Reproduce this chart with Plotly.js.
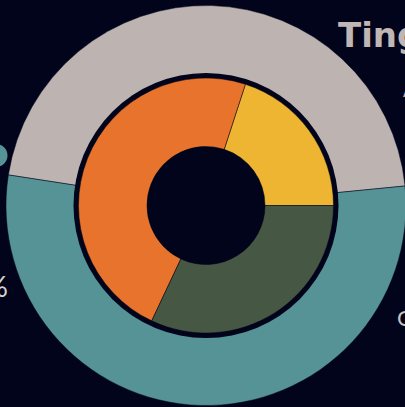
<!DOCTYPE html>
<html>
<head>
<meta charset="utf-8">
<script src="https://cdn.plot.ly/plotly-3.0.1.min.js"></script>
<style>
html,body{margin:0;padding:0;background:#01041a;overflow:hidden;width:405px;height:407px;}
#chart{width:420px;height:420px;}
</style>
</head>
<body>
<div id="chart"></div>
<script>
// Outer ring
const outerLabels = ["Grey group", "Teal group"];
const outerValues = [46, 54];
const outerColors = ["#bdb4b2", "#559397"];

// Inner ring
const innerLabels = ["Yellow", "Orange", "Green"];
const innerValues = [20, 48, 32];
const innerColors = ["#eeb532", "#e8732c", "#465744"];

const BG = "#01041a";
const W = 420, H = 420;
const cx = 206, cyTop = 205.5;
const cy = H - cyTop;
function dom(r){
  return {x:[(cx - r)/W, (cx + r)/W], y:[(cy - r)/H, (cy + r)/H]};
}

const traces = [
  {
    type: "pie", labels: outerLabels, values: outerValues,
    marker: {colors: outerColors, line: {color: BG, width: 0.5}},
    sort: false, direction: "counterclockwise", rotation: -81.2,
    textinfo: "none", hoverinfo: "label+percent", showlegend: false,
    domain: dom(200)
  },
  {
    type: "pie", labels: ["ring"], values: [1],
    marker: {colors: [BG], line: {width: 0}},
    textinfo: "none", hoverinfo: "skip", showlegend: false, sort: false,
    domain: dom(132.5)
  },
  {
    type: "pie", labels: innerLabels, values: innerValues,
    marker: {colors: innerColors, line: {color: BG, width: 0.5}},
    sort: false, direction: "counterclockwise", rotation: 18, hole: 0.463,
    textinfo: "none", hoverinfo: "label+percent", showlegend: false,
    domain: dom(127.5)
  }
];

const layout = {
  width: W, height: H,
  margin: {l:0, r:0, t:0, b:0},
  paper_bgcolor: BG, plot_bgcolor: BG,
  showlegend: false,
  shapes: [
    {type:"circle", xref:"paper", yref:"paper",
     x0:(-15.5)/W, x1:(7.5)/W, y0:(H-167)/H, y1:(H-144)/H,
     fillcolor:"#559397", line:{width:0}}
  ],
  annotations: [
    {text:"<b>Tingkat Partisipasi</b>", xref:"paper", yref:"paper", x:336/W, y:(H-35)/H,
     xanchor:"left", yanchor:"middle", showarrow:false,
     font:{family:"DejaVu Sans, sans-serif", size:34, color:"#c0b7b5"}},
    {text:"Analisis", xref:"paper", yref:"paper", x:401/W, y:(H-90)/H,
     xanchor:"left", yanchor:"middle", showarrow:false,
     font:{family:"Lato, sans-serif", size:17, color:"#c0b7b5"}},
    {text:"54%", xref:"paper", yref:"paper", x:10/W, y:(H-285)/H,
     xanchor:"right", yanchor:"middle", showarrow:false,
     font:{family:"Lato, sans-serif", size:29, color:"#d6d1d0"}},
    {text:"Online", xref:"paper", yref:"paper", x:395/W, y:(H-317)/H,
     xanchor:"left", yanchor:"middle", showarrow:false,
     font:{family:"Lato, sans-serif", size:22, color:"#c8c2c1"}}
  ]
};

Plotly.newPlot("chart", traces, layout, {displayModeBar:false, staticPlot:true});
</script>
</body>
</html>
